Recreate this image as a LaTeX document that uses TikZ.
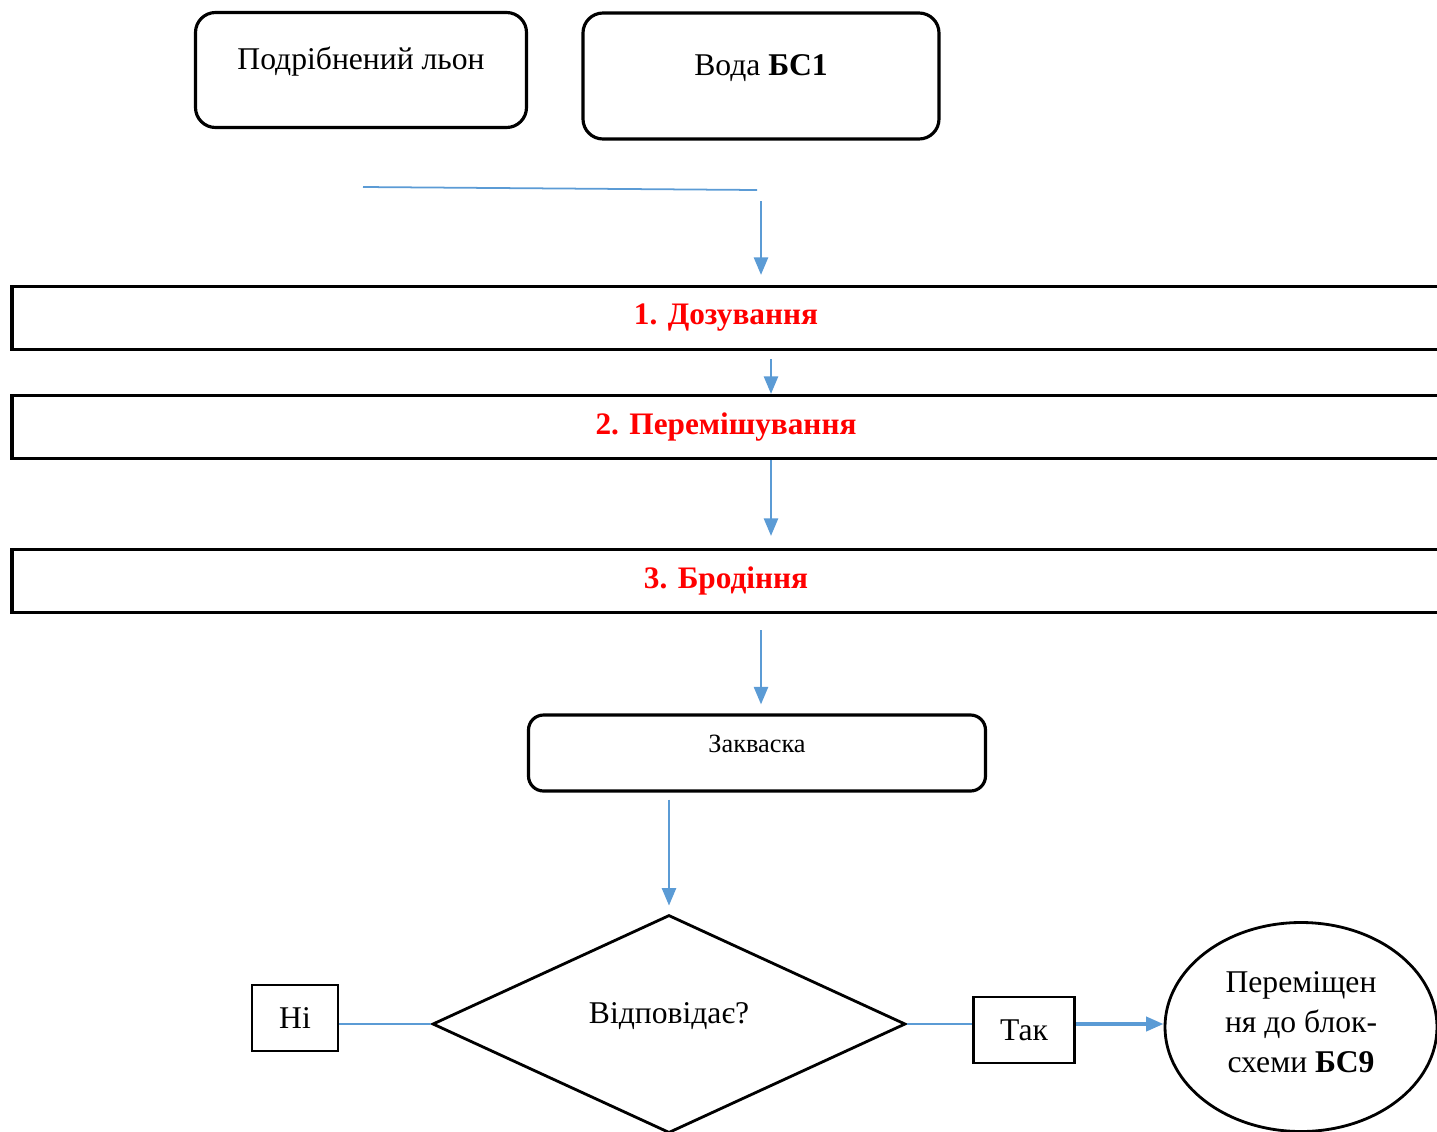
\documentclass[tikz,border=0pt]{standalone}
\usepackage{fontspec}
\setmainfont{Liberation Serif}
\usetikzlibrary{shapes.geometric,arrows.meta}
\definecolor{flowblue}{RGB}{91,155,213}
\tikzset{box/.style={draw, rounded corners=0.2cm, line width=0.9pt, align=center, font=\fontsize{9}{11.4}\selectfont},
  stage/.style={draw, line width=0.9pt, minimum width=14.28cm, minimum height=0.63cm, text=red, font=\fontsize{8.9}{11.4}\selectfont\bfseries},
  flow/.style={flowblue, line width=0.7pt, -{Triangle[length=5pt,width=4pt]}},
  link/.style={flowblue, line width=0.5pt}}

\begin{document}
\begin{tikzpicture}
  \useasboundingbox (0,0) rectangle (14.37,-11.31);
  \node[box, minimum width=3.31cm, minimum height=1.15cm, text height=0.25cm, text depth=0.26cm] (mill) at ( 3.61,-0.70) {Подрібнений льон};
  \node[box, minimum width=3.56cm, minimum height=1.26cm, text height=0.25cm, text depth=0.26cm] (water) at ( 7.61,-0.76) {Вода \textbf{БС1}};
  \coordinate (j1) at (3.63,-1.87);
  \coordinate (j2) at (7.57,-1.90);
  \coordinate (j3) at (7.61,-2.01);
  \node[stage] (dose) at ( 7.26,-3.18) {1. Дозування};
  \node[stage] (mix)  at ( 7.26,-4.27) {2. Перемішування};
  \node[stage] (ferm) at ( 7.26,-5.81) {3. Бродіння};
  \node[box, rounded corners=0.15cm, minimum width=4.57cm, minimum height=0.76cm, text height=0.2cm, text depth=0.22cm, font=\fontsize{7.5}{9}\selectfont] (starter) at ( 7.57,-7.53) {Закваска};
  \node[draw, diamond, line width=0.8pt, minimum width=4.73cm, minimum height=2.18cm, inner sep=0pt, text height=0.25cm, text depth=0.27cm, font=\fontsize{9}{11.4}\selectfont] (check) at ( 6.69,-10.24) {Відповідає?};
  \node[draw, line width=0.8pt, minimum width=0.86cm, minimum height=0.66cm, font=\fontsize{9}{11.4}\selectfont] (no) at ( 2.95,-10.18) {Ні};
  \node[draw, line width=0.8pt, minimum width=1.01cm, minimum height=0.66cm, font=\fontsize{9}{11.4}\selectfont] (yes) at (10.24,-10.30) {Так};
  \node[draw, ellipse, line width=0.8pt, minimum width=2.72cm, minimum height=2.09cm, inner sep=0pt, align=center, font=\fontsize{9}{11.4}\selectfont] (move) at (13.01,-10.27) {Переміщен\\ня до блок-\\схеми \textbf{БС9}\\[-0.3cm]};
  \draw[link] (j1) -- (j2);
  \draw[flow, shorten >=0.10cm] (j3) -- (j3 |- dose.north);
  \draw[flow, shorten <=0.08cm] ([xshift=0.45cm]dose.south) -- ([xshift=0.45cm]mix.north);
  \draw[flow, shorten >=0.12cm] ([xshift=0.45cm]mix.south) -- ([xshift=0.45cm]ferm.north);
  \draw[flow, shorten <=0.16cm, shorten >=0.09cm] (j3 |- ferm.south) -- (j3 |- starter.north);
  \draw[flow, shorten <=0.07cm, shorten >=0.08cm] (check.north |- starter.south) -- (check.north);
  \draw[link] (check.west) -- (check.west -| no.east);
  \draw[link] (check.east) -- (check.east -| yes.west);
  \draw[flow, line width=1.1pt] (check.east -| yes.east) -- (check.east -| move.west);
\end{tikzpicture}
\end{document}
